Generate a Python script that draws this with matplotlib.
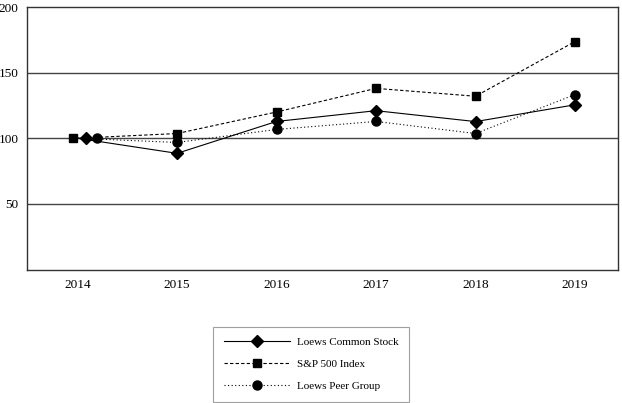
import matplotlib
matplotlib.use("Agg")
import matplotlib.pyplot as plt
import matplotlib.transforms as mtransforms

years = [2014, 2015, 2016, 2017, 2018, 2019]
loews = [100, 88.5, 112.8, 121, 112.7, 125.5]
sp500 = [100, 103.6, 120, 138, 132, 173.7]
peer = [100, 96.8, 106.7, 112.8, 103.6, 133.3]
yticks = [50, 100, 150, 200]

plt.rcParams['font.family'] = ['Liberation Serif', 'DejaVu Serif']

fig = plt.figure(figsize=(6.22, 4.03), dpi=100)
ax = fig.add_axes([27 / 622, 1 - 269.5 / 403, 591 / 622, 262.5 / 403])

for v in yticks[:-1]:
    ax.axhline(v, color='#444444', lw=1.0, zorder=1)

series = [
    (loews, '-', 'D', 6, 'Loews Common Stock', 8.5),
    (sp500, (0, (3, 2)), 's', 6, 'S&P 500 Index', -4.5),
    (peer, (0, (1, 2.2)), 'o', 6.5, 'Loews Peer Group', 19.5),
]
handles = []
for vals, ls, mk, ms, lab, off in series:
    ax.plot(years, vals, color='black', ls=ls, lw=0.8, zorder=2)
    ax.plot(years[1:], vals[1:], ls='none', marker=mk, ms=ms, color='black', zorder=3)
    tr = ax.transData + mtransforms.ScaledTranslation(off / 100, 0, fig.dpi_scale_trans)
    ax.plot(years[:1], vals[:1], ls='none', marker=mk, ms=ms, color='black', transform=tr, zorder=3)
    h, = ax.plot([], [], color='black', ls=ls, lw=0.8, marker=mk, ms=ms, label=lab)
    handles.append(h)

ax.set_xlim(2014 - 0.508, 2019.432)
ax.set_ylim(0, 200)
ax.set_xticks(years)
ax.set_yticks(yticks)
ax.tick_params(length=0, labelsize=9.5, colors='black')
ax.tick_params(axis='x', pad=7)
ax.tick_params(axis='y', pad=6)
for s in ax.spines.values():
    s.set_color('#333333')
    s.set_linewidth(1.0)

leg = fig.legend(handles=handles, loc='upper left', bbox_to_anchor=(213 / 622, 1 - 327 / 403),
                 borderaxespad=0, frameon=True, fancybox=False, edgecolor='#888888', fontsize=8,
                 handlelength=6.0, labelspacing=1.1, borderpad=0.95, handletextpad=0.6)
leg.get_frame().set_linewidth(0.8)

fig.savefig('out.png', dpi=100)
